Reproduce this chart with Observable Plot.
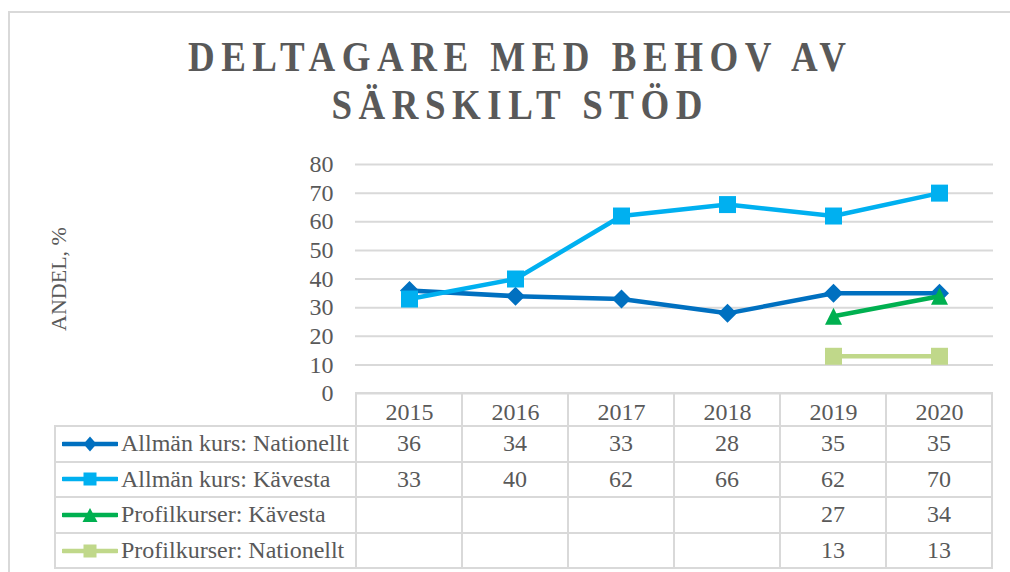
<!DOCTYPE html>
<html>
<head>
<meta charset="utf-8">
<script src="https://cdn.jsdelivr.net/npm/d3@7"></script>
<script src="https://cdn.jsdelivr.net/npm/@observablehq/plot@0.6"></script>
<style>
  html, body { margin: 0; padding: 0; background: #fff; overflow: hidden; }
  #wrap { position: relative; width: 1010px; height: 572px; overflow: hidden; font-family: "Liberation Serif", "Times New Roman", serif; color: #595959; }
  #frame { position: absolute; left: 8px; top: 11px; width: 1200px; height: 800px; border: 2px solid #d9d9d9; box-sizing: border-box; }
  #title { position: absolute; left: 2px; top: 33px; width: 1030px; padding-left: 7.4px; box-sizing: border-box; text-align: center; font-weight: bold; font-size: 42px; line-height: 48px; letter-spacing: 7.4px; color: #595959; white-space: nowrap; transform: scaleX(0.88); transform-origin: 515px 0; }
  #chart svg { position: absolute; left: 0; top: 140px; overflow: visible; }
  #dtable { position: absolute; border-collapse: collapse; table-layout: fixed; font-size: 24px; color: #595959; }
  #dtable td { border: 2px solid #d9d9d9; padding: 0; text-align: center; white-space: nowrap; box-sizing: border-box; }
  #dtable td.key { text-align: left; padding-left: 6px; }
  #dtable td.key svg { vertical-align: middle; margin-right: 3px; position: relative; top: -2px; }
  #dtable tr.head td.corner { border-top: none; border-left: none; }
</style>
</head>
<body>
<div id="wrap">
  <div id="frame"></div>
  <div id="title">DELTAGARE MED BEHOV AV<br>SÄRSKILT STÖD</div>
  <div id="chart"></div>
</div>
<script>
// ---- data ----
const years = ["2015", "2016", "2017", "2018", "2019", "2020"];
const seriesNames = [
  "Allmän kurs: Nationellt",
  "Allmän kurs: Kävesta",
  "Profilkurser: Kävesta",
  "Profilkurser: Nationellt"
];
const allmanNationellt = [36, 34, 33, 28, 35, 35];
const allmanKavesta = [33, 40, 62, 66, 62, 70];
const profilKavesta = [null, null, null, null, 27, 34];
const profilNationellt = [null, null, null, null, 13, 13];
const yTicks = [0, 10, 20, 30, 40, 50, 60, 70, 80];
const yLabel = "ANDEL, %";

// ---- styles ----
const seriesValues = [allmanNationellt, allmanKavesta, profilKavesta, profilNationellt];
const colors = ["#0070C0", "#00B0F0", "#00B050", "#C0D88A"];
const shapes = ["diamond", "square", "triangle", "square"];
const markerR = { diamond: 9.5, square: 8.5, triangle: 8.5 };

const symbolDefs = {
  square: { draw(ctx, size) { const h = Math.sqrt(size / Math.PI); ctx.rect(-h, -h, 2 * h, 2 * h); } },
  diamond: { draw(ctx, size) { const h = Math.sqrt(size / Math.PI); ctx.moveTo(0, -h); ctx.lineTo(h, 0); ctx.lineTo(0, h); ctx.lineTo(-h, 0); ctx.closePath(); } },
  triangle: { draw(ctx, size) { const h = Math.sqrt(size / Math.PI); ctx.moveTo(0, -h); ctx.lineTo(h, h); ctx.lineTo(-h, h); ctx.closePath(); } }
};

const rows = [];
seriesNames.forEach((s, i) => {
  seriesValues[i].forEach((v, j) => {
    if (v != null) rows.push({ series: s, year: years[j], value: v });
  });
});

const W = 1010, ML = 355, MR = 17, SVG_TOP = 140, H = 290, MT = 24, MB = 37;
const FONT = "Liberation Serif";

const seriesMarks = seriesNames.flatMap((s, i) => {
  const d = rows.filter(r => r.series === s);
  return [
    Plot.line(d, { x: "year", y: "value", stroke: colors[i], strokeWidth: 4.5 }),
    Plot.dot(d, { x: "year", y: "value", fill: colors[i], stroke: "none", symbol: symbolDefs[shapes[i]], r: markerR[shapes[i]] })
  ];
});

const chart = Plot.plot({
  width: W,
  height: H,
  marginLeft: ML,
  marginRight: MR,
  marginTop: MT,
  marginBottom: MB,
  style: { fontFamily: FONT, fontSize: "24px", color: "#595959", background: "transparent" },
  x: { type: "point", domain: years, padding: 0.5, label: null },
  y: { domain: [0, 80], label: null },
  marks: [
    Plot.gridY(yTicks, { stroke: "#d9d9d9", strokeWidth: 2, strokeOpacity: 1 }),
    Plot.ruleX([0], { x: () => null, frameAnchor: "left", stroke: "#d9d9d9", strokeWidth: 2 }),
    Plot.axisY(yTicks, { tickSize: 0, tickPadding: 22, fontSize: 24, fontFamily: FONT, label: null }),
    Plot.axisX({ tickSize: 0, tickPadding: 9, fontSize: 24, fontFamily: FONT, label: null }),
    Plot.text([yLabel], { frameAnchor: "left", dx: -297, rotate: -90, textAnchor: "middle", lineAnchor: "middle", fontSize: 22, fontFamily: FONT, fill: "#595959" }),
    ...seriesMarks
  ]
});
document.getElementById("chart").appendChild(chart);

const xs = chart.scale("x");
const step = xs.step;
const plotLeft = xs.apply(years[0]) - step / 2;

// ---- data table (legend + values) ----
const keyW = 56;
function keySvg(i) {
  const col = colors[i];
  const shp = shapes[i];
  let m = "";
  const cx = 28, cy = 10;
  if (shp === "diamond") m = `<path d="M${cx},${cy-7.5}L${cx+6.5},${cy}L${cx},${cy+7.5}L${cx-6.5},${cy}Z" fill="${col}"/>`;
  if (shp === "square") m = `<rect x="${cx-6.5}" y="${cy-6.5}" width="13" height="13" fill="${col}"/>`;
  if (shp === "triangle") m = `<path d="M${cx},${cy-7}L${cx+7.5},${cy+7}L${cx-7.5},${cy+7}Z" fill="${col}"/>`;
  return `<svg width="${keyW}" height="20"><line x1="1" y1="${cy}" x2="${keyW-1}" y2="${cy}" stroke="${col}" stroke-width="4.5" stroke-linecap="round"/>${m}</svg>`;
}
const legendW = plotLeft - 55;
const table = document.createElement("table");
table.id = "dtable";
let html = `<colgroup><col style="width:${legendW}px">` + years.map(() => `<col style="width:${step}px">`).join("") + `</colgroup>`;
html += `<tr class="head" style="height:33px"><td class="corner"></td>` + years.map(() => `<td></td>`).join("") + `</tr>`;
seriesNames.forEach((s, i) => {
  html += `<tr style="height:35.6px"><td class="key">${keySvg(i)}${s}</td>` +
    seriesValues[i].map(v => `<td>${v == null ? "" : v}</td>`).join("") + `</tr>`;
});
table.innerHTML = html;
table.style.left = (55 - 1) + "px";
table.style.top = (SVG_TOP + H - MB - 1) + "px";
table.style.width = (legendW + step * years.length) + "px";
document.getElementById("wrap").appendChild(table);
</script>
</body>
</html>
